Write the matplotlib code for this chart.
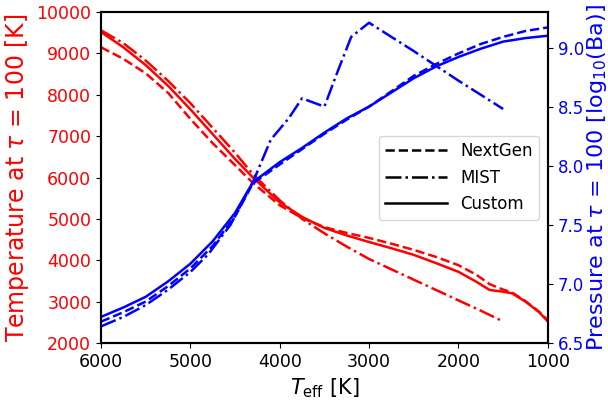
import numpy as np
import matplotlib.pyplot as plt
from matplotlib.lines import Line2D

# Effective temperature grids [K]
teff_custom = [6000, 5750, 5500, 5250, 5000, 4750, 4500, 4300, 4000, 3750, 3500, 3250,
               3000, 2750, 2500, 2250, 2000, 1800, 1650, 1500, 1400, 1250, 1100, 1000]
teff_mist = [6000, 5750, 5500, 5250, 5000, 4750, 4500, 4300, 4000, 3750, 3500, 3250,
             3000, 2750, 2500, 2250, 2000, 1750, 1500]

# Temperature at tau = 100 [K]
temp_custom = [9520, 9150, 8720, 8220, 7650, 7050, 6450, 6000, 5400, 5050, 4780, 4600,
               4440, 4290, 4130, 3930, 3720, 3480, 3280, 3240, 3200, 3000, 2750, 2520]
temp_nextgen = [9150, 8870, 8520, 8050, 7420, 6830, 6300, 5870, 5330, 5020, 4800, 4660,
                4540, 4400, 4250, 4080, 3880, 3650, 3420, 3290, 3220, 3010, 2760, 2550]
temp_mist = [9560, 9250, 8830, 8340, 7800, 7200, 6600, 6080, 5450, 5000, 4650, 4330,
             4030, 3780, 3530, 3280, 3030, 2780, 2520]

# Pressure at tau = 100 [log10(Ba)]
teff_p = [6000, 5750, 5500, 5250, 5000, 4750, 4500, 4300, 4000, 3750, 3500, 3250,
          3000, 2750, 2500, 2250, 2000, 1750, 1500, 1250, 1000]
pres_custom = [6.72, 6.80, 6.89, 7.02, 7.17, 7.36, 7.60, 7.86, 8.03, 8.15, 8.28, 8.40,
               8.50, 8.62, 8.74, 8.84, 8.92, 8.99, 9.05, 9.08, 9.10]
pres_nextgen = [6.68, 6.76, 6.85, 6.98, 7.13, 7.32, 7.57, 7.85, 8.01, 8.14, 8.27, 8.39,
                8.50, 8.63, 8.76, 8.86, 8.95, 9.03, 9.09, 9.14, 9.17]
teff_p_mist = [6000, 5750, 5500, 5250, 5000, 4800, 4550, 4300, 4100, 3900, 3750, 3500,
               3350, 3200, 3000, 2500, 2000, 1500]
pres_mist = [6.64, 6.72, 6.82, 6.95, 7.10, 7.25, 7.50, 7.86, 8.22, 8.40, 8.57, 8.50,
             8.80, 9.09, 9.21, 8.97, 8.72, 8.48]

fig, ax1 = plt.subplots(figsize=(6.08, 4.03), dpi=100)
fig.subplots_adjust(left=0.166, right=0.901, bottom=0.149, top=0.970)
ax2 = ax1.twinx()

lw = 1.8
ax1.plot(teff_custom, temp_nextgen, color='r', ls='--', lw=lw)
ax1.plot(teff_mist, temp_mist, color='r', ls='-.', lw=lw)
ax1.plot(teff_custom, temp_custom, color='r', ls='-', lw=lw)

ax2.plot(teff_p, pres_nextgen, color='b', ls='--', lw=lw)
ax2.plot(teff_p_mist, pres_mist, color='b', ls='-.', lw=lw)
ax2.plot(teff_p, pres_custom, color='b', ls='-', lw=lw)

ax1.set_xlim(6000, 1000)
ax1.set_ylim(2000, 10000)
ax2.set_ylim(6.5, 9.3)
ax1.set_xticks([6000, 5000, 4000, 3000, 2000, 1000])
ax1.set_yticks(np.arange(2000, 10001, 1000))
ax2.set_yticks([6.5, 7.0, 7.5, 8.0, 8.5, 9.0])

ax1.set_xlabel(r'$T_{\rm eff}$ [K]', fontsize=15)
ax1.set_ylabel(r'Temperature at $\tau$ = 100 [K]', color='r', fontsize=17)
ax2.set_ylabel(r'Pressure at $\tau$ = 100 [log$_{10}$(Ba)]', color='b', fontsize=16,
               labelpad=1)

ax1.tick_params(axis='x', labelsize=12.5)
ax1.tick_params(axis='y', labelsize=12.5, labelcolor='r')
ax2.tick_params(axis='y', labelsize=12, labelcolor='b')
for ax in (ax1, ax2):
    for s in ax.spines.values():
        s.set_linewidth(1.5)

handles = [Line2D([], [], color='k', ls='--', lw=lw),
           Line2D([], [], color='k', ls='-.', lw=lw),
           Line2D([], [], color='k', ls='-', lw=lw)]
ax2.legend(handles, ['NextGen', 'MIST', 'Custom'], loc='center right',
           fontsize=12, handlelength=3.7)

plt.savefig('out.png', dpi=100)
